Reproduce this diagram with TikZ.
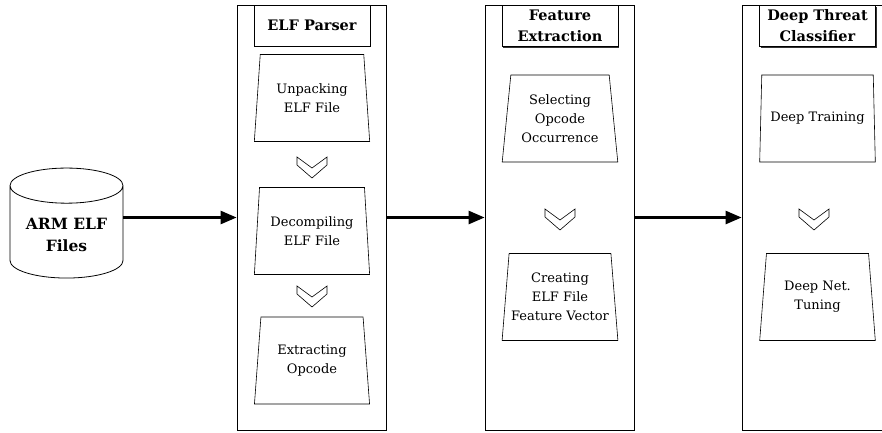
\documentclass[tikz,border=0pt]{standalone}
\usepackage{fontspec}
\setmainfont{DejaVu Serif}
\usetikzlibrary{arrows.meta, positioning, shapes.geometric, shadows}

\begin{document}
\begin{tikzpicture}[
  x=1pt, y=-1pt,
  panel/.style={draw, line width=0.8pt, minimum width=149pt, minimum height=425pt, inner sep=0pt},
  title/.style={draw, line width=0.8pt, fill=white, minimum width=116pt, minimum height=41pt,
    align=center, inner sep=1pt, font=\bfseries\fontsize{14.5}{21}\selectfont,
    drop shadow={shadow xshift=1pt, shadow yshift=-1pt, fill=black!80, opacity=1}},
  proc/.style={trapezium, draw, line width=0.6pt, trapezium left angle=82, trapezium right angle=82,
    trapezium stretches=true, minimum width=116pt, minimum height=87pt, inner sep=0pt,
    align=center, font=\fontsize{13}{19}\selectfont},
  db/.style={cylinder, shape border rotate=90, draw, line width=0.8pt, aspect=0.4,
    minimum width=113pt, minimum height=110pt, align=center, font=\bfseries\fontsize{15.5}{22}\selectfont},
  flow/.style={-{Triangle[length=16pt, width=13pt]}, line width=2.6pt},
  chevron/.pic={
    \draw[line width=0.6pt] (-15,-10) -- (0,1) -- (15,-10) -- (15,-2) -- (0,11) -- (-15,-2) -- cycle;
  }
]
\useasboundingbox (0,0) rectangle (882,432);

% input files
\node[db] (arm) at (66.5,235) {ARM ELF\\Files};

% ELF parser
\node[panel] (elf) at (311.5,217.5) {};
\node[title] (elft) at (312,25.5) {ELF Parser};
\node[proc] (unpack) at (312,98) {Unpacking\\ELF File};
\pic at (312,167) {chevron};
\node[proc] (decomp) at (312,231) {Decompiling\\ELF File};
\pic at (312,296) {chevron};
\node[proc] (opc) at (312,360.5) {Extracting\\Opcode};

% feature extraction
\node[panel] (feat) at (559.5,217.5) {};
\node[title] (featt) at (560,26) {Feature\\Extraction};
\node[proc] (select) at (560,118.5) {Selecting\\Opcode\\Occurrence};
\pic at (560,219) {chevron};
\node[proc] (vector) at (560,297) {Creating\\ELF File\\Feature Vector};

% classifier
\node[panel] (dtc) at (816.5,217.5) {};
\node[title] (dtct) at (817.5,26) {Deep Threat\\Classifier};
\node[proc] (train) at (817.5,118.5) {Deep Training};
\pic at (814,219) {chevron};
\node[proc] (tune) at (817.5,297) {Deep Net.\\Tuning};

\draw[flow] (arm.east |- elf.west) -- (elf.west);
\draw[flow] (elf.east) -- (feat.west);
\draw[flow] (feat.east) -- (dtc.west);
\end{tikzpicture}
\end{document}
